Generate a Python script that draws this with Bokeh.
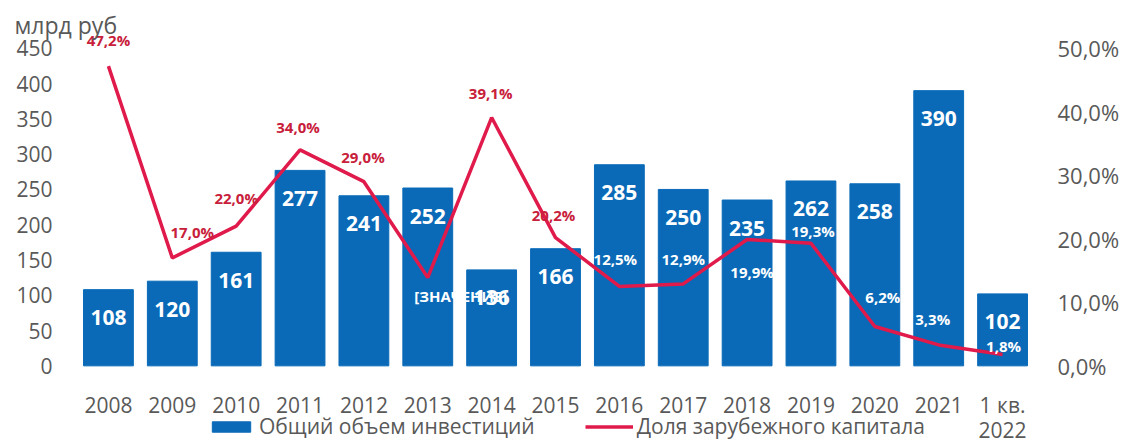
from bokeh.plotting import figure
from bokeh.models import (ColumnDataSource, FactorRange, Range1d, LinearAxis, FixedTicker,
                          CustomJSTickFormatter, Legend, LegendItem)
from bokeh.core.properties import value
from bokeh.embed import file_html
from bokeh.resources import INLINE

# ---- data ----
categories = ["2008", "2009", "2010", "2011", "2012", "2013", "2014", "2015",
              "2016", "2017", "2018", "2019", "2020", "2021", "1 кв.\n2022"]
investments = [108, 120, 161, 277, 241, 252, 136, 166, 285, 250, 235, 262, 258, 390, 102]
foreign_share = [47.2, 17.0, 22.0, 34.0, 29.0, 13.9, 39.1, 20.2, 12.5, 12.9, 19.9, 19.3, 6.2, 3.3, 1.8]
share_labels = ["47,2%", "17,0%", "22,0%", "34,0%", "29,0%", "[ЗНАЧЕНИЕ]", "39,1%", "20,2%",
                "12,5%", "12,9%", "19,9%", "19,3%", "6,2%", "3,3%", "1,8%"]
left_ticks = [0, 50, 100, 150, 200, 250, 300, 350, 400, 450]
right_ticks = [0, 10, 20, 30, 40, 50]

# ---- styling (label placement, screen px offsets) ----
RED_LBL = "#c8203a"
WHITE = "#ffffff"
lbl_colors = [RED_LBL, RED_LBL, RED_LBL, RED_LBL, RED_LBL, WHITE, RED_LBL, RED_LBL,
              WHITE, WHITE, WHITE, WHITE, WHITE, WHITE, WHITE]
lbl_dx = [0, 20, 0, -2, -1, 33, -1, -2, -4, 0, 5, 2, 8, -6, 1]
lbl_dy = [-26, -26, -28, -23, -25, 18, -25, -23, -27, -25, 33, -12, -29, -26, -8]

BAR = "#0a6ab8"
LINE = "#e01a4a"
GREY = "#595959"
FONT = "Open Sans"

W, H = 1125, 447
PX_PER_UNIT = (367 - 48) / 450.0
TOP = 5
BOTTOM = 445
YMAX = 450 + (48 - TOP) / PX_PER_UNIT
YMIN = -(BOTTOM - 367) / PX_PER_UNIT

src = ColumnDataSource(dict(x=categories, inv=investments, inv_txt=[str(v) for v in investments],
                            share=foreign_share, share_txt=share_labels,
                            col=lbl_colors, dx=lbl_dx, dy=lbl_dy))

p = figure(x_range=FactorRange(*categories, range_padding=0, factor_padding=0),
           y_range=Range1d(YMIN, YMAX), width=W, height=H,
           output_backend="svg", toolbar_location=None,
           min_border_left=76, min_border_right=91, min_border_top=TOP, min_border_bottom=0)
p.extra_y_ranges = {"pct": Range1d(YMIN / 9.0, YMAX / 9.0)}
p.outline_line_color = None
p.grid.visible = False
p.background_fill_color = "white"

# unit caption as the figure title
p.title.text = "млрд руб"
p.title.align = "left"
p.title.offset = -62
p.title.standoff = -70
p.title.text_font = FONT
p.title.text_font_style = "normal"
p.title.text_font_size = "23px"
p.title.text_color = GREY

bars = p.vbar(x="x", top="inv", bottom=0, width=0.78, source=src, color=BAR)
line = p.line(x="x", y="share", source=src, y_range_name="pct", line_color=LINE, line_width=3.5)

p.text(x="x", y="inv", text="inv_txt", source=src, y_offset=28,
       text_align="center", text_baseline="middle", text_color="white",
       text_font=value(FONT), text_font_style="bold", text_font_size="21px")
p.text(x="x", y="share", text="share_txt", source=src, y_range_name="pct",
       x_offset="dx", y_offset="dy", text_align="center", text_baseline="middle",
       text_color="col", text_font=value(FONT), text_font_style="bold", text_font_size="15px")

def style_axis(ax, size):
    ax.axis_line_color = None
    ax.major_tick_line_color = None
    ax.minor_tick_line_color = None
    ax.major_tick_out = 0
    ax.major_tick_in = 0
    ax.minor_tick_out = 0
    ax.minor_tick_in = 0
    ax.major_label_text_color = GREY
    ax.major_label_text_font = FONT
    ax.major_label_text_font_size = size

style_axis(p.xaxis[0], "21px")
style_axis(p.yaxis[0], "21px")
p.xaxis.major_label_text_line_height = 0.92
p.xaxis.major_label_standoff = -53
p.yaxis[0].ticker = FixedTicker(ticks=left_ticks)
p.yaxis[0].major_label_standoff = 24

ra = LinearAxis(y_range_name="pct", ticker=FixedTicker(ticks=right_ticks),
                formatter=CustomJSTickFormatter(code="return tick.toFixed(1).replace('.', ',') + '%';"))
style_axis(ra, "22px")
ra.major_label_standoff = 23
p.add_layout(ra, "right")

legend = Legend(items=[LegendItem(label="Общий объем инвестиций", renderers=[bars]),
                       LegendItem(label="Доля зарубежного капитала", renderers=[line])],
                orientation="horizontal", location=(131, BOTTOM - 442), padding=0, margin=0,
                spacing=50, glyph_width=48, glyph_height=13, label_height=16,
                label_standoff=4, border_line_color=None, background_fill_alpha=0,
                label_text_color=GREY, label_text_font=FONT, label_text_font_size="21px")
p.add_layout(legend, "center")

open("out.html", "w").write(file_html(p, INLINE))
